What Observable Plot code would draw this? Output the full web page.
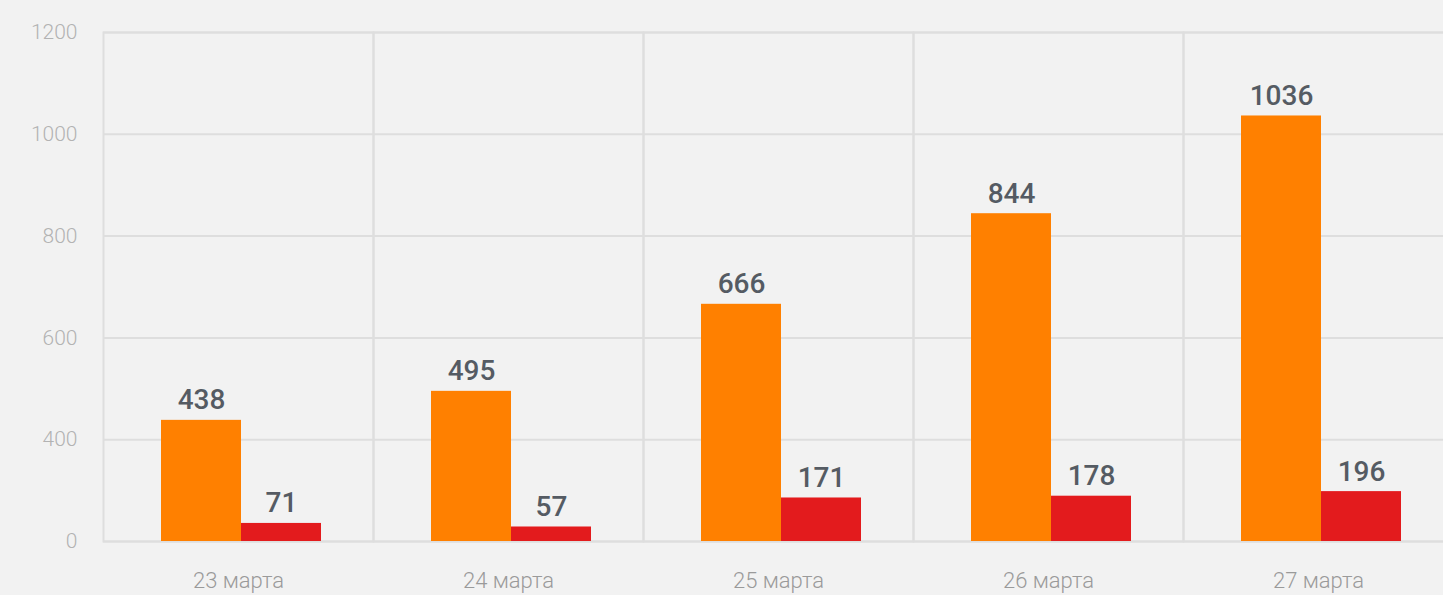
<!DOCTYPE html>
<html>
<head>
<meta charset="utf-8">
<script src="https://cdn.jsdelivr.net/npm/d3@7"></script>
<script src="https://cdn.jsdelivr.net/npm/@observablehq/plot@0.6"></script>
<style>
  html, body { margin: 0; padding: 0; background: #f2f2f2; overflow: hidden; }
  #chart { width: 1443px; height: 595px; overflow: hidden; }
</style>
</head>
<body>
<div id="chart"></div>
<script>
const dates = ["23 марта", "24 марта", "25 марта", "26 марта", "27 марта"];
const seriesNames = ["Всего случаев", "Новых за сутки"];
const totalCases = [438, 495, 666, 844, 1036];
const newCases = [71, 57, 171, 178, 196];
const yTicks = [0, 400, 600, 800, 1000, 1200];
const seriesColors = ["#ff8000", "#e31b1d"];

const rows = [];
dates.forEach((d, i) => {
  rows.push({date: d, series: seriesNames[0], value: totalCases[i]});
  rows.push({date: d, series: seriesNames[1], value: newCases[i]});
});

const chart = Plot.plot({
  width: 1443,
  height: 595,
  marginLeft: 103,
  marginRight: -10,
  marginTop: 32,
  marginBottom: 54,
  style: {background: "#f2f2f2", fontFamily: "Roboto, sans-serif", overflow: "visible"},
  fx: {domain: dates, padding: 0, label: null},
  x: {domain: seriesNames, paddingInner: 0, paddingOuter: 0.667, align: 0.53, axis: null},
  y: {type: "linear", domain: yTicks, ticks: yTicks, label: null},
  color: {domain: seriesNames, range: seriesColors},
  marks: [
    Plot.gridY(yTicks, {stroke: "#dedede", strokeOpacity: 1, strokeWidth: 2}),
    Plot.frame({stroke: "#dedede", strokeWidth: 2}),
    Plot.axisY({ticks: yTicks, tickSize: 0, tickPadding: 26, fontSize: 21, fontWeight: 300, fill: "#b3b3b3", tickFormat: "d", label: null}),
    Plot.axisFx({anchor: "bottom", tickSize: 0, tickPadding: 31, fontSize: 22, fontWeight: 300, fill: "#9a9a9a", label: null}),
    Plot.barY(rows, {fx: "date", x: "series", y: "value", fill: "series"}),
    Plot.text(rows, {fx: "date", x: "series", y: "value", text: d => String(d.value), dy: -11, lineAnchor: "bottom", fontSize: 28, fontWeight: 500, fill: "#555b63"})
  ]
});
document.getElementById("chart").appendChild(chart);
</script>
</body>
</html>
